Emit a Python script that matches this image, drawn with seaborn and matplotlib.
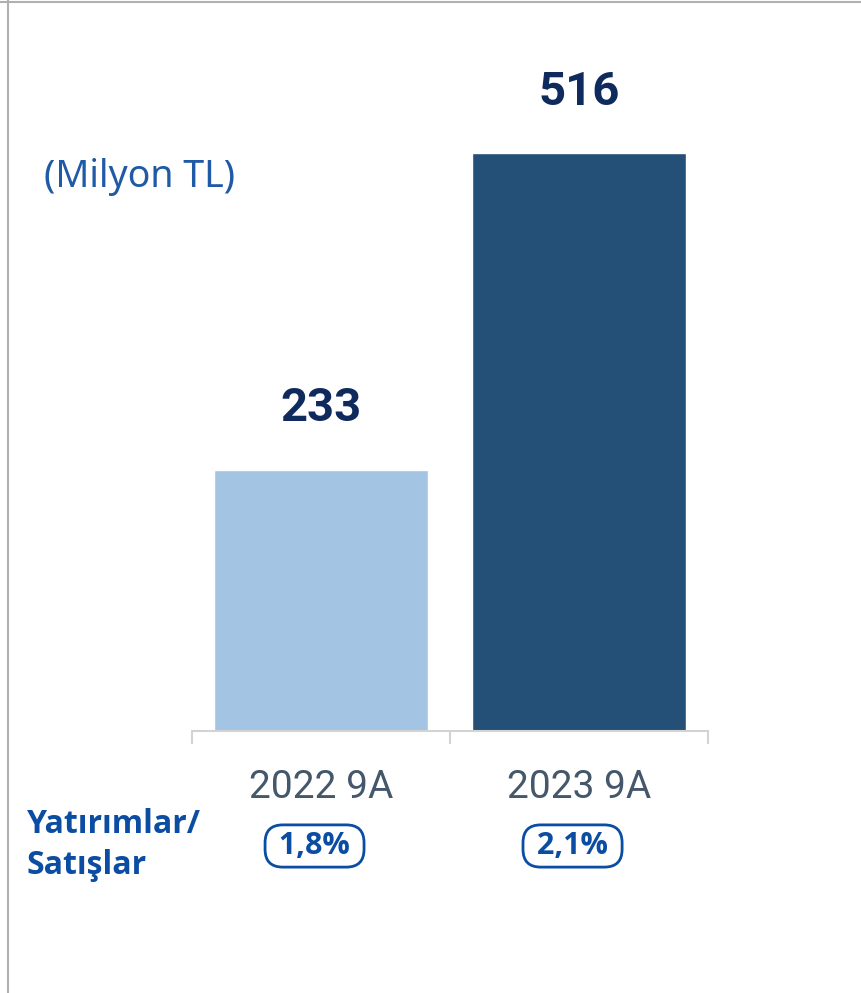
import matplotlib
matplotlib.use("Agg")
import matplotlib.pyplot as plt
import matplotlib.transforms as mtransforms
from matplotlib.lines import Line2D
import seaborn as sns
import pandas as pd

# Data
periods = ["2022 9A", "2023 9A"]
investments = [233, 516]
invest_to_sales = ["1,8%", "2,1%"]

unit_label = "(Milyon TL)"
ratio_label = "Yatırımlar/\nSatışlar"

bar_colors = ["#A3C4E3", "#245077"]
navy = "#0F2A5C"
blue = "#0B4DA2"
tick_color = "#44576B"
line_gray = "#D3D3D3"


def main():
    sns.set_theme(style="white")
    plt.rcParams["font.family"] = ["Roboto", "DejaVu Sans"]

    df = pd.DataFrame({"period": periods, "value": investments})

    fig = plt.figure(figsize=(8.61, 9.93), dpi=100)
    ax = fig.add_axes([192 / 861, 1 - 731 / 993, 516 / 861, 691 / 993])

    sns.barplot(data=df, x="period", y="value", hue="period",
                palette=bar_colors, width=0.833, legend=False,
                saturation=1, ax=ax)

    ax.set_ylim(0, 617)
    ax.set_xlim(-0.5, len(periods) - 0.5)
    ax.set_xlabel("")
    ax.set_ylabel("")
    ax.set_yticks([])
    for side in ["left", "right", "top"]:
        ax.spines[side].set_visible(False)
    ax.spines["bottom"].set_color(line_gray)
    ax.spines["bottom"].set_linewidth(1.5)

    # labels in the middle, small separators at the category edges
    ax.tick_params(axis="x", which="major", length=0, pad=27,
                   labelsize=28, labelcolor=tick_color)
    ax.set_xticks([i - 0.5 for i in range(len(periods) + 1)], minor=True)
    ax.tick_params(axis="x", which="minor", direction="out", length=9.5,
                   width=1.5, color=line_gray, bottom=True)

    # value labels above bars
    for i, v in enumerate(investments):
        ax.annotate(f"{v}", (i, v), xytext=(0, 35), textcoords="offset points",
                    ha="center", va="baseline", fontsize=34,
                    fontweight="bold", color=navy,
                    family=["Roboto", "DejaVu Sans"])

    fig.text(44 / 861, 1 - 177 / 993, unit_label, ha="left", va="center",
             fontsize=27, color="#1F5AA6", family=["Noto Sans", "DejaVu Sans"])

    fig.text(27 / 861, 1 - 808 / 993, ratio_label, ha="left", va="top",
             fontsize=23, fontweight="bold", color=blue, linespacing=1.3,
             family=["Open Sans", "DejaVu Sans"])

    # ratio pills below each period
    trans = mtransforms.blended_transform_factory(ax.transData, fig.transFigure)
    for i, r in enumerate(invest_to_sales):
        ax.text(i - 0.025, 1 - 846 / 993, f" {r} ", transform=trans,
                ha="center", va="center", fontsize=22, fontweight="bold",
                color=blue, family=["Open Sans", "DejaVu Sans"],
                bbox=dict(boxstyle="round,pad=0.2,rounding_size=0.58",
                          fc="white", ec=blue, lw=2))

    # frame lines at top and left
    fig.add_artist(Line2D([0, 1], [1 - 1.5 / 993] * 2, color="#B0B0B0",
                          lw=1.5, transform=fig.transFigure))
    fig.add_artist(Line2D([7.5 / 861] * 2, [0, 1], color="#B0B0B0",
                          lw=1.5, transform=fig.transFigure))

    fig.savefig("out.png", dpi=100)


if __name__ == "__main__":
    main()
